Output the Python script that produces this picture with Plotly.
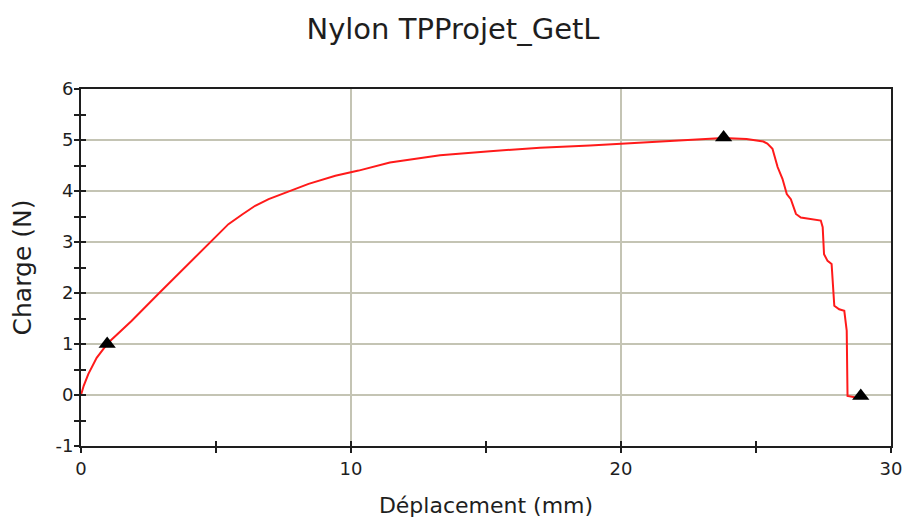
import plotly.graph_objects as go

# Curve
deplacement = [0.0, 0.1, 0.27, 0.58, 1.0, 1.87, 2.86, 3.73, 4.6, 5.05, 5.46, 5.97, 6.45, 6.95,
               7.44, 8.43, 9.42, 10.28, 11.44, 13.3, 15.15, 17.0, 18.85, 20.7, 22.56, 23.79,
               24.65, 25.27, 25.42, 25.61, 25.8, 25.98, 26.14, 26.29, 26.48, 26.66, 27.4,
               27.47, 27.52, 27.65, 27.8, 27.9, 28.08, 28.27, 28.36, 28.39, 28.7, 28.88]
charge = [0.0, 0.18, 0.41, 0.73, 1.02, 1.45, 1.98, 2.44, 2.89, 3.13, 3.35, 3.54, 3.71, 3.84,
          3.94, 4.14, 4.30, 4.40, 4.56, 4.70, 4.78, 4.85, 4.89, 4.95, 5.01, 5.04,
          5.02, 4.97, 4.93, 4.83, 4.47, 4.24, 3.94, 3.84, 3.55, 3.48, 3.42,
          3.29, 2.76, 2.63, 2.57, 1.75, 1.68, 1.65, 1.26, -0.02, -0.05, -0.03]

# Marked points (triangles)
marker_x = [0.97, 23.8, 28.88]
marker_y = [1.0, 5.05, -0.02]

title_text = "Nylon TPProjet_GetL"
x_title = "Déplacement (mm)"
y_title = "Charge (N)"
x_ticks = [0, 10, 20, 30]
y_ticks = [-1, 0, 1, 2, 3, 4, 5, 6]

FONT = "DejaVu Sans"
GRID = "#c4c4b4"
INK = "#1e1e1e"

fig = go.Figure()
fig.add_trace(go.Scatter(x=deplacement, y=charge, mode="lines",
                         line=dict(color="#ff1a1a", width=2),
                         hoverinfo="skip", showlegend=False))
fig.add_trace(go.Scatter(x=marker_x, y=marker_y, mode="markers",
                         marker=dict(symbol="triangle-up", size=15, color="black"),
                         showlegend=False))

fig.update_layout(
    width=906, height=520,
    paper_bgcolor="white", plot_bgcolor="white",
    margin=dict(l=81, r=15, t=89, b=74, autoexpand=False),
    title=dict(text=title_text, x=0.5, xanchor="center", xref="container",
               y=1 - 29 / 520, yanchor="middle",
               font=dict(family=FONT, size=29, color=INK)),
    font=dict(family=FONT, color=INK),
    xaxis=dict(range=[0, 30], tickvals=x_ticks, ticktext=[str(v) for v in x_ticks],
               showgrid=True, gridcolor=GRID, gridwidth=1.5,
               showline=True, linecolor=INK, linewidth=2, mirror=True,
               ticks="outside", ticklen=5, tickwidth=1.5, tickcolor=INK,
               minor=dict(dtick=5, tick0=0, ticks="outside", ticklen=5, tickwidth=1.5,
                          tickcolor=INK, showgrid=False),
               zeroline=False, tickfont=dict(size=18), automargin=False,
               title=dict(text=x_title, font=dict(size=22), standoff=20)),
    yaxis=dict(range=[-1, 6], tickvals=y_ticks, ticktext=[str(v) for v in y_ticks],
               showgrid=True, gridcolor=GRID, gridwidth=1.5,
               showline=True, linecolor=INK, linewidth=2, mirror=True,
               ticks="outside", ticklen=5, tickwidth=1.5, tickcolor=INK,
               minor=dict(dtick=0.5, tick0=0, ticks="outside", ticklen=5, tickwidth=1.5,
                          tickcolor=INK, showgrid=False),
               ticklabelstandoff=-3,
               zeroline=False, tickfont=dict(size=18), automargin=False,
               title=dict(text=y_title, font=dict(size=25), standoff=17)),
    # overlay axes giving the inner half of the crossing ticks
    xaxis2=dict(range=[0, 30], overlaying="x", side="bottom", anchor="y",
                tickvals=x_ticks, showticklabels=False, showgrid=False, zeroline=False,
                ticks="inside", ticklen=5, tickwidth=1.5, tickcolor=INK, automargin=False,
                minor=dict(dtick=5, tick0=0, ticks="inside", ticklen=5, tickwidth=1.5,
                           tickcolor=INK)),
    yaxis2=dict(range=[-1, 6], overlaying="y", side="left", anchor="x",
                tickvals=y_ticks, showticklabels=False, showgrid=False, zeroline=False,
                ticks="inside", ticklen=5, tickwidth=1.5, tickcolor=INK, automargin=False,
                minor=dict(dtick=0.5, tick0=0, ticks="inside", ticklen=5, tickwidth=1.5,
                           tickcolor=INK)),
)
fig.add_trace(go.Scatter(x=[0], y=[0], xaxis="x2", yaxis="y2", mode="markers",
                         marker=dict(opacity=0), hoverinfo="skip", showlegend=False))

fig.write_html("out.html", config={"displayModeBar": False},
               post_script="document.body.style.margin='0';document.body.style.overflow='hidden';")
